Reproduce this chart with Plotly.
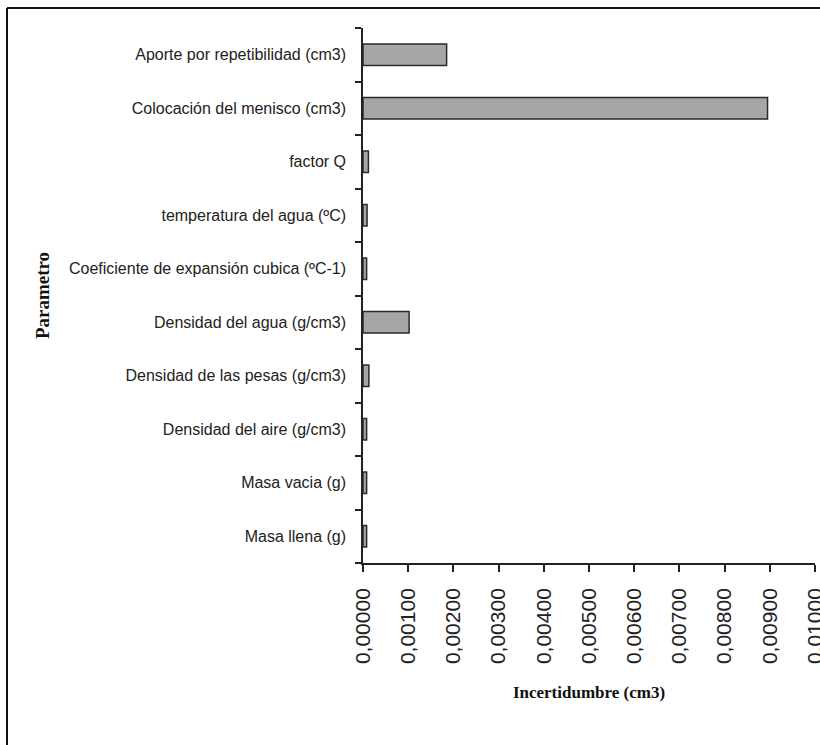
import plotly.graph_objects as go

categories = [
    "Masa llena (g)",
    "Masa vacia (g)",
    "Densidad del aire (g/cm3)",
    "Densidad de las pesas (g/cm3)",
    "Densidad del agua (g/cm3)",
    "Coeficiente de expansión cubica (ºC-1)",
    "temperatura del agua (ºC)",
    "factor Q",
    "Colocación del menisco (cm3)",
    "Aporte por repetibilidad (cm3)",
]
values = [0.00008, 0.00008, 0.00008, 0.00013, 0.00102,
          0.00008, 0.00009, 0.00012, 0.00895, 0.00185]
x_ticks = [0.000, 0.001, 0.002, 0.003, 0.004, 0.005,
           0.006, 0.007, 0.008, 0.009, 0.010]

W, H = 820, 745
L, R, T, B = 363, 5, 28, 182
pw = W - L - R
ph = H - T - B

sans = "Liberation Sans, Arial, sans-serif"
serif = "Liberation Serif, Times New Roman, serif"

fig = go.Figure(go.Bar(
    y=categories, x=values, orientation="h",
    marker=dict(color="#a6a6a9", line=dict(color="#2a2a2a", width=1.5)),
    width=0.4,
))

fig.update_layout(
    width=W, height=H,
    margin=dict(l=L, r=R, t=T, b=B, autoexpand=False),
    paper_bgcolor="white", plot_bgcolor="white",
    separators=",.",
    showlegend=False,
    xaxis=dict(
        range=[0, 0.01], tickvals=x_ticks, tickformat=".5f",
        tickangle=-90, ticks="outside", ticklen=7, tickcolor="#222",
        tickwidth=1.5, showline=True, linecolor="#222", linewidth=1.5,
        showgrid=False, zeroline=False, automargin=False,
        ticklabeloverflow="allow",
        tickfont=dict(family=sans, size=21, color="#222"),
        ticklabelstandoff=8,
        title=dict(text="<b>Incertidumbre (cm3)</b>", standoff=23,
                   font=dict(family=serif, size=17, color="#111")),
    ),
    yaxis=dict(
        categoryorder="array", categoryarray=categories,
        ticks="outside", ticklen=6, tickcolor="#222", tickwidth=1.5,
        tickson="boundaries", showline=True, linecolor="#222", linewidth=1.5,
        showgrid=False, zeroline=False, automargin=False,
        tickfont=dict(family=sans, size=16, color="#222"),
        ticklabelstandoff=12,
        title=dict(text="<b>Parametro</b>", standoff=14,
                   font=dict(family=serif, size=19, color="#111")),
    ),
)

# outer frame (left and top edges visible)
fx = (7 - L) / pw
fy = 1 + (T - 8) / ph
fig.add_shape(type="line", xref="paper", yref="paper", x0=fx, x1=fx, y0=-1, y1=fy,
              line=dict(color="#111", width=2))
fig.add_shape(type="line", xref="paper", yref="paper", x0=fx, x1=1.2, y0=fy, y1=fy,
              line=dict(color="#111", width=2))

fig.write_html("out.html", config={"displayModeBar": False},
               post_script="document.body.style.margin='0';")
